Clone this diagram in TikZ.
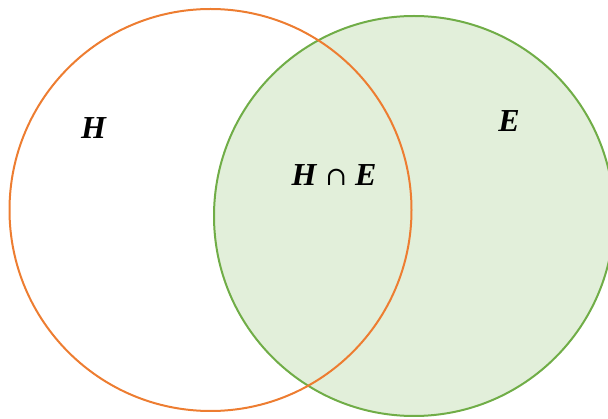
\documentclass[tikz,border=0pt]{standalone}
\usepackage{fontspec}
\setmainfont{Liberation Serif}
\newfontfamily\capfont{DejaVu Serif}
\definecolor{vorange}{HTML}{ED7D31}
\definecolor{vgreen}{HTML}{70AD47}
\definecolor{vfill}{HTML}{E2EFDA}
\newcommand{\setname}[1]{\textbf{\textit{#1}}}
\begin{document}
\begin{tikzpicture}[x=1pt, y=-1pt, line width=2pt, line join=round, line cap=round,
	font=\fontsize{32}{38}\selectfont]
		\useasboundingbox (0,0) rectangle (608,419);
		\filldraw[fill=vfill, draw=vgreen] (414,216) circle (200);
		\draw[vorange] (210.5,210) circle (201);
		\node (h) at (94,128) {\setname{H}};
		\node (e) at (509,121) {\setname{E}};
		\node (he) at (334,175) {\setname{H} {\capfont\fontsize{26}{30}\selectfont ∩} \setname{E}};
	\end{tikzpicture}
\end{document}
